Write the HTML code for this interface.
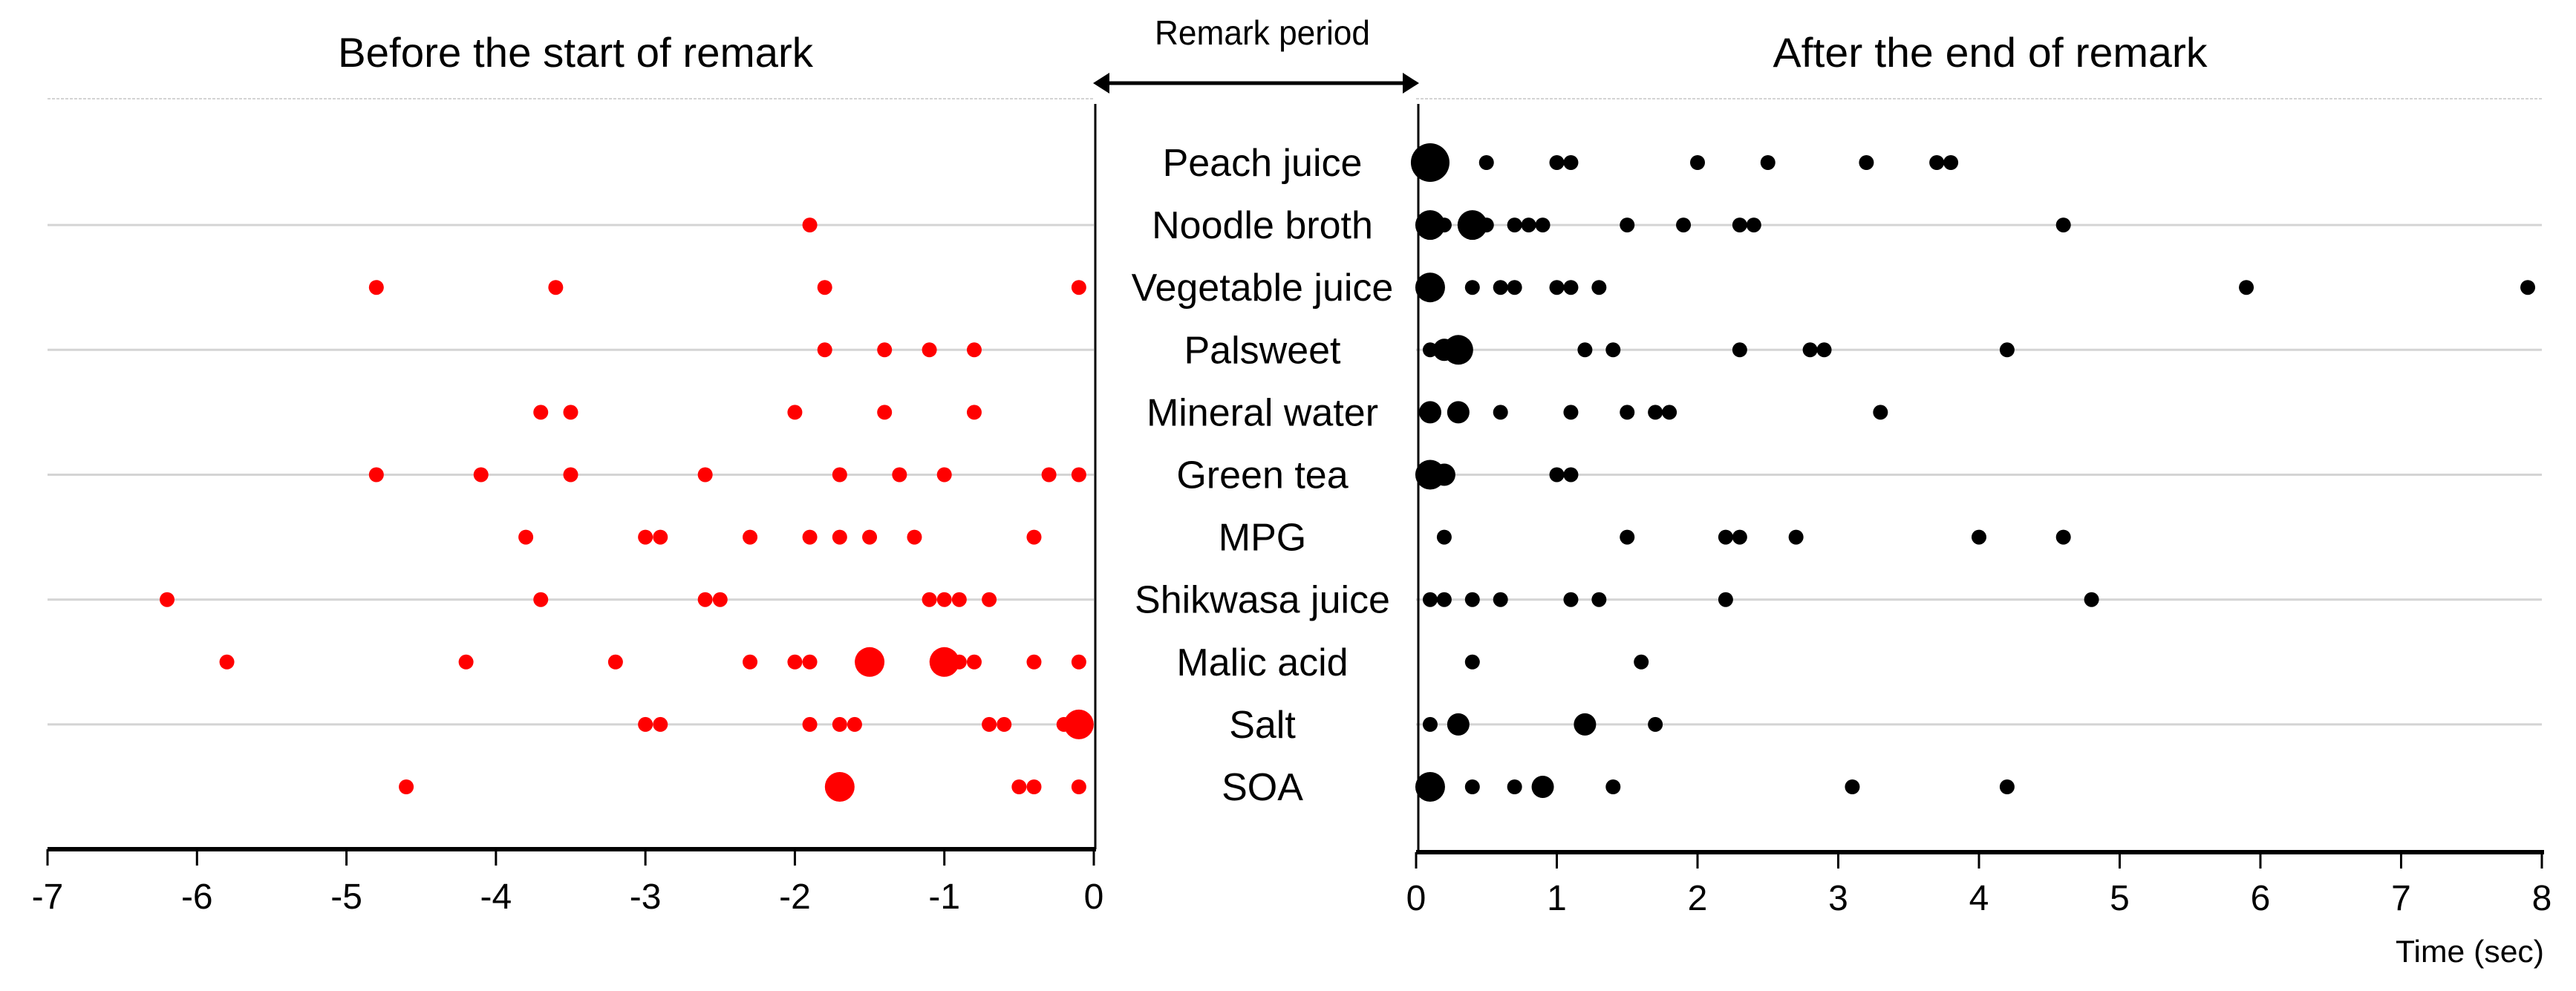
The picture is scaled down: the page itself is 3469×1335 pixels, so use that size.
<!DOCTYPE html>
<html><head><meta charset="utf-8">
<style>
html,body{margin:0;padding:0;background:#fff;}
svg{display:block;font-family:"Liberation Sans",sans-serif;}
</style></head>
<body>
<svg id="chart" width="3469" height="1335" viewBox="0 0 3469 1335" xmlns="http://www.w3.org/2000/svg">
<text x="775" y="90" font-size="56" text-anchor="middle" textLength="640" lengthAdjust="spacingAndGlyphs">Before the start of remark</text>
<text x="2680" y="90" font-size="56" text-anchor="middle" textLength="585" lengthAdjust="spacingAndGlyphs">After the end of remark</text>
<text x="1700" y="60" font-size="46" text-anchor="middle" textLength="290" lengthAdjust="spacingAndGlyphs">Remark period</text>
<g>
<line x1="1488" y1="112" x2="1895" y2="112" stroke="#000" stroke-width="5"/>
<polygon points="1472,112 1494,98 1494,126" fill="#000"/>
<polygon points="1911,112 1889,98 1889,126" fill="#000"/>
</g>
<g id="grid"></g>
<g id="axes"></g>
<g id="labels"></g>
<g id="dots"></g>
<text x="3426" y="1296" font-size="42" text-anchor="end" textLength="200" lengthAdjust="spacingAndGlyphs">Time (sec)</text>
</svg>
<script>
const categories=["Peach juice","Noodle broth","Vegetable juice","Palsweet","Mineral water","Green tea","MPG","Shikwasa juice","Malic acid","Salt","SOA"];
const beforeTimes=[[],[-1.9],[-4.8,-3.6,-1.8,-0.1],[-1.8,-1.4,-1.1,-0.8],[-3.7,-3.5,-2.0,-1.4,-0.8],[-4.8,-4.1,-3.5,-2.6,-1.7,-1.3,-1.0,-0.3,-0.1],[-3.8,-3.0,-2.9,-2.3,-1.9,-1.7,-1.5,-1.2,-0.4],[-6.2,-3.7,-2.6,-2.5,-1.1,-1.0,-0.9,-0.7],[-5.8,-4.2,-3.2,-2.3,-2.0,-1.9,-1.5,-1.0,-0.9,-0.8,-0.4,-0.1],[-3.0,-2.9,-1.9,-1.7,-1.6,-0.7,-0.6,-0.2,-0.1],[-4.6,-1.7,-0.5,-0.4,-0.1]];
const beforeCounts=[[],[1],[1,1,1,1],[1,1,1,1],[1,1,1,1,1],[1,1,1,1,1,1,1,1,1],[1,1,1,1,1,1,1,1,1],[1,1,1,1,1,1,1,1],[1,1,1,1,1,1,3,3,1,1,1,1],[1,1,1,1,1,1,1,1,3],[1,3,1,1,1]];
const afterTimes=[[0.1,0.5,1.0,1.1,2.0,2.5,3.2,3.7,3.8],[0.1,0.2,0.4,0.5,0.7,0.8,0.9,1.5,1.9,2.3,2.4,4.6],[0.1,0.4,0.6,0.7,1.0,1.1,1.3,5.9,7.9],[0.1,0.2,0.3,1.2,1.4,2.3,2.8,2.9,4.2],[0.1,0.3,0.6,1.1,1.5,1.7,1.8,3.3],[0.1,0.2,1.0,1.1],[0.2,1.5,2.2,2.3,2.7,4.0,4.6],[0.1,0.2,0.4,0.6,1.1,1.3,2.2,4.8],[0.4,1.6],[0.1,0.3,1.2,1.7],[0.1,0.4,0.7,0.9,1.4,3.1,4.2]];
const afterCounts=[[4,1,1,1,1,1,1,1,1],[3,1,3,1,1,1,1,1,1,1,1,1],[3,1,1,1,1,1,1,1,1],[1,2,3,1,1,1,1,1,1],[2,2,1,1,1,1,1,1],[3,2,1,1],[1,1,1,1,1,1,1],[1,1,1,1,1,1,1,1],[1,1],[1,2,2,1],[3,1,1,2,1,1,1]];
const leftTicks=["-7","-6","-5","-4","-3","-2","-1","0"];
const rightTicks=["0","1","2","3","4","5","6","7","8"];

const NS="http://www.w3.org/2000/svg";
function mk(tag,attrs,parent){const e=document.createElementNS(NS,tag);for(const k in attrs)e.setAttribute(k,attrs[k]);parent.appendChild(e);return e;}
const L0=64,L1=1473,R0=1907,R1=3423,AXY=1144;
const xL=v=>L0+(v+7)/7*(L1-L0);
const xR=v=>R0+v/8*(R1-R0);
const yRow=i=>219+i*84.1;
const rad=c=>[0,10,15,20,26][c];
const grid=document.getElementById('grid'),axes=document.getElementById('axes'),labels=document.getElementById('labels'),dots=document.getElementById('dots');

const gy=[133];for(let i=1;i<categories.length;i+=2)gy.push(yRow(i));
gy.forEach((y,k)=>{
 const a=mk('line',{x1:L0,y1:y,x2:L1,y2:y,stroke:'#d4d4d4','stroke-width':k==0?2:3,'stroke-dasharray':k==0?'4 2':''},grid);
 
 
 const b=mk('line',{x1:R0,y1:y,x2:R1,y2:y,stroke:'#d4d4d4','stroke-width':k==0?2:3,'stroke-dasharray':k==0?'4 2':''},grid);
 
 
});
let e;
e=mk('line',{x1:L1+2,y1:140,x2:L1+2,y2:AXY,stroke:'#000','stroke-width':3},axes);


e=mk('line',{x1:R0+3,y1:140,x2:R0+3,y2:AXY+6,stroke:'#000','stroke-width':3},axes);


e=mk('line',{x1:L0,y1:AXY,x2:L1+3,y2:AXY,stroke:'#000','stroke-width':6},axes);


e=mk('line',{x1:R0,y1:AXY+4,x2:R1+3,y2:AXY+4,stroke:'#000','stroke-width':6},axes);


leftTicks.forEach(t=>{const x=xL(parseFloat(t));
 e=mk('line',{x1:x,y1:AXY,x2:x,y2:AXY+22,stroke:'#000','stroke-width':3},axes);
 
 
 e=mk('text',{x:x,y:AXY+80,'font-size':48,'text-anchor':'middle'},axes);e.textContent=t;
 
 
});
rightTicks.forEach(t=>{const x=xR(parseFloat(t));
 e=mk('line',{x1:x,y1:AXY+4,x2:x,y2:AXY+26,stroke:'#000','stroke-width':3},axes);
 
 
 e=mk('text',{x:x,y:AXY+82,'font-size':48,'text-anchor':'middle'},axes);e.textContent=t;
 
 
});
categories.forEach((c,i)=>{
 e=mk('text',{x:1700,y:yRow(i)+18,'font-size':52,'text-anchor':'middle'},labels);e.textContent=c;
 
 
});
beforeTimes.forEach((arr,i)=>arr.forEach((v,j)=>{
 e=mk('circle',{cx:xL(v),cy:yRow(i),r:rad(beforeCounts[i][j]),fill:'#ff0000'},dots);
 
 
}));
afterTimes.forEach((arr,i)=>arr.forEach((v,j)=>{
 e=mk('circle',{cx:xR(v),cy:yRow(i),r:rad(afterCounts[i][j]),fill:'#000'},dots);
 
 
}));
</script>
</body></html>
